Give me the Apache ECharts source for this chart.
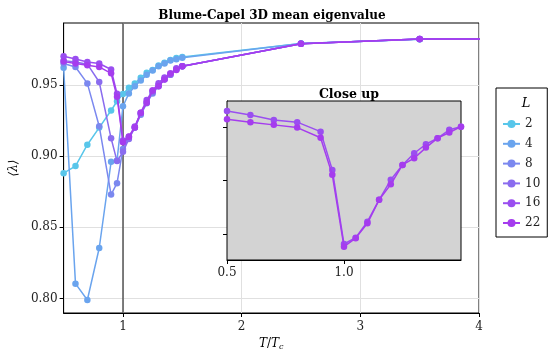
<!DOCTYPE html>
<html><head><meta charset="utf-8">
<script src="https://cdn.jsdelivr.net/npm/echarts@6/dist/echarts.min.js"></script>
<style>html,body{margin:0;padding:0;background:#fff}#c{width:550px;height:356px}</style>
</head><body><div id="c"></div>
<script>
const T = [0.5,0.6,0.7,0.8,0.9,0.95,1.0,1.05,1.1,1.15,1.2,1.25,1.3,1.35,1.4,1.45,1.5,2.5,3.5,4.5];
const L2  = [0.888,0.893,0.908,0.920,0.932,0.9385,0.9435,0.948,0.951,0.955,0.9585,0.9605,0.9635,0.9655,0.9675,0.9688,0.9695,0.979,0.982,0.9825];
const L4  = [0.962,0.8105,0.799,0.8355,0.896,0.897,0.935,0.944,0.949,0.953,0.957,0.960,0.963,0.965,0.967,0.968,0.969,0.979,0.982,0.9825];
const L8  = [0.965,0.9625,0.951,0.921,0.873,0.881,0.905,0.913,0.920,0.929,0.937,0.944,0.949,0.954,0.957,0.961,0.963,0.9788,0.9821,0.9823];
const L10 = [0.967,0.966,0.9645,0.952,0.9125,0.8965,0.903,0.912,0.920,0.930,0.938,0.945,0.950,0.954,0.957,0.961,0.963,0.9788,0.9821,0.9823];
const L16 = [0.970,0.9682,0.966,0.965,0.9608,0.9438,0.9109,0.9137,0.9208,0.9305,0.9394,0.946,0.9512,0.9552,0.9579,0.9616,0.963,0.9788,0.9821,0.9823];
const L22 = [0.9663,0.965,0.9638,0.9626,0.9581,0.9416,0.9097,0.9135,0.9201,0.9305,0.9374,0.946,0.949,0.9537,0.9579,0.9604,0.963,0.9788,0.9821,0.9823];
const seriesNames = ['2','4','8','10','16','22'];
const seriesData = [L2,L4,L8,L10,L16,L22];
const colors = ['#58c6ea','#6aa4ee','#7b88ef','#8a6cef','#9a4ef0','#a53cee'];
const insetSeries = [4,5];
const mainYTicks = [0.80,0.85,0.90,0.95];
const mainXTicks = [1,2,3,4];
const insetXTicks = [0.5,1.0];
const insetYTicks = [0.91538,0.93905,0.96258];
const critT = 1;

const FONT = 'DejaVu Serif';
const pairs = d => T.map((t,i)=>[t,d[i]]);
const series = [];
seriesData.forEach((d,k)=>{
  series.push({
    name: seriesNames[k], type:'line', xAxisIndex:0, yAxisIndex:0,
    data: pairs(d), symbol:'circle', symbolSize:6.5, color: colors[k],
    lineStyle:{width:1.5}, z: 3+k,
    markLine: k===0 ? {silent:true, symbol:'none', label:{show:false}, z:1,
      lineStyle:{color:'#555', width:1.5, type:'solid'}, data:[{xAxis:critT}]} : undefined
  });
});
insetSeries.forEach((k,j)=>{
  series.push({
    name: seriesNames[k], type:'line', xAxisIndex:1, yAxisIndex:1,
    data: pairs(seriesData[k]), symbol:'circle', symbolSize:6.5, color: colors[k],
    lineStyle:{width:1.5}, z: 20+j,
    markLine: j===0 ? {silent:true, symbol:'none', label:{show:false},
      lineStyle:{color:'#555', width:1.2, type:'solid'}, data:[{xAxis:critT}]} : undefined
  });
});

const chart = echarts.init(document.getElementById('c'), null, {renderer:'canvas'});
chart.setOption({
  animation:false,
  backgroundColor:'#fff',
  title:[
    {text:'Blume-Capel 3D mean eigenvalue', left:267, top:5, textAlign:'center',
     textStyle:{fontFamily:FONT, fontWeight:'bold', fontSize:12, color:'#000'}},
    {text:'Close up', left:344, top:83, textAlign:'center',
     textStyle:{fontFamily:FONT, fontWeight:'bold', fontSize:12.5, color:'#000'}},
    {text:'L', left:521, top:92, textAlign:'center',
     textStyle:{fontFamily:FONT, fontStyle:'italic', fontWeight:'normal', fontSize:13, color:'#000'}, z:20}
  ],
  legend:{
    data: seriesNames, orient:'vertical', left:496, top:88,
    backgroundColor:'#fff', borderColor:'#000', borderWidth:1, borderRadius:0,
    padding:[30,7,8,6], itemWidth:17, itemHeight:10, itemGap:7.8,
    textStyle:{fontFamily:FONT, fontSize:12, color:'#222'}, z:10
  },
  grid:[
    {left:56, top:23, width:423, height:290, show:true, borderColor:'#000', borderWidth:1, backgroundColor:'#fff'},
    {left:227, top:101, width:234, height:159, show:true, borderColor:'#000', borderWidth:1, backgroundColor:'#d3d3d3', z:10}
  ],
  xAxis:[
    {type:'value', gridIndex:0, min:0.5, max:4,
     name:'{i|T}{n|/}{i|T}{s|c}', nameLocation:'middle', nameGap:17,
     nameTextStyle:{rich:{i:{fontFamily:FONT, fontStyle:'italic', fontSize:12, color:'#000'},
       n:{fontFamily:FONT, fontSize:12, color:'#000'}, s:{fontFamily:FONT, fontStyle:'italic', fontSize:8, color:'#000', verticalAlign:'bottom', padding:[6,0,0,0]}}},
     axisLine:{onZero:false, lineStyle:{color:'#000', width:1}},
     axisTick:{customValues:mainXTicks, length:4, lineStyle:{color:'#000'}},
     axisLabel:{customValues:mainXTicks, fontFamily:FONT, fontSize:12, color:'#222', margin:8},
     splitLine:{show:true, customValues:mainXTicks, lineStyle:{color:'#e0e0e0', width:1}}},
    {type:'value', gridIndex:1, min:0.5, max:1.5,
     axisLine:{onZero:false, lineStyle:{color:'#000', width:1}},
     axisTick:{customValues:insetXTicks, length:4, lineStyle:{color:'#000'}},
     axisLabel:{customValues:insetXTicks, fontFamily:FONT, fontSize:12, color:'#222', margin:7, formatter:v=>v.toFixed(1)},
     splitLine:{show:false}}
  ],
  yAxis:[
    {type:'value', gridIndex:0, min:0.7899, max:0.9934,
     name:'⟨λ⟩', nameLocation:'middle', nameGap:42, nameRotate:90,
     nameTextStyle:{fontFamily:FONT, fontStyle:'italic', fontSize:12, color:'#000'},
     axisLine:{lineStyle:{color:'#000', width:1}},
     axisTick:{customValues:mainYTicks, length:4, lineStyle:{color:'#000'}},
     axisLabel:{customValues:mainYTicks, fontFamily:FONT, fontSize:12, color:'#222', margin:6, formatter:v=>v.toFixed(2)},
     splitLine:{show:true, customValues:mainYTicks, lineStyle:{color:'#e0e0e0', width:1}}},
    {type:'value', gridIndex:1, min:0.9038, max:0.9744,
     axisLine:{lineStyle:{color:'#000', width:1}},
     axisTick:{customValues:insetYTicks, length:4, lineStyle:{color:'#000'}},
     axisLabel:{show:false},
     splitLine:{show:false}}
  ],
  series: series
});
</script></body></html>
